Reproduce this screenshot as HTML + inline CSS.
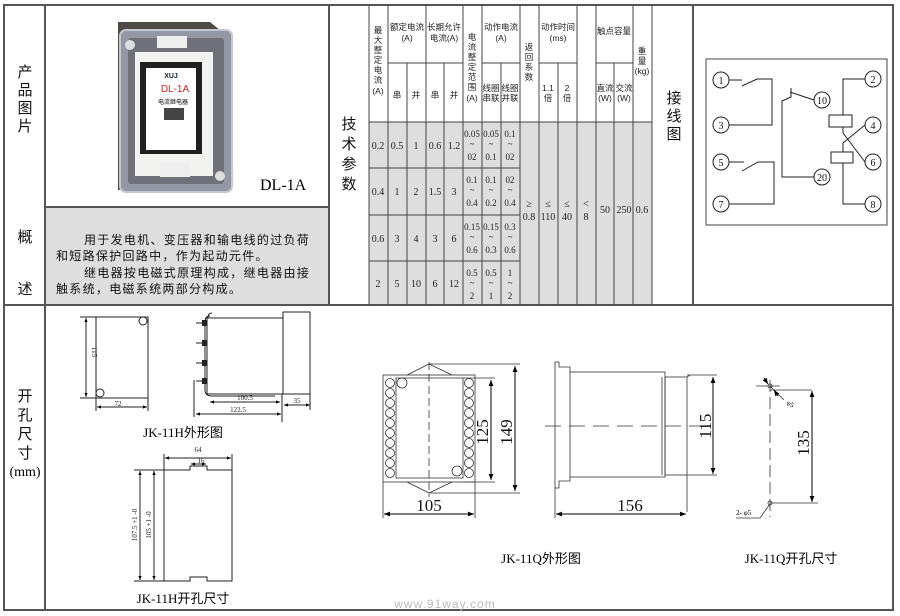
<!DOCTYPE html>
<html><head><meta charset="utf-8"><style>
html,body{margin:0;padding:0;background:#fff;width:900px;height:616px;overflow:hidden}
svg{display:block}
.c{font-family:"Liberation Serif","Noto Sans CJK SC",serif}
.s{font-family:"Liberation Sans","Noto Sans CJK SC",sans-serif}
</style></head><body>
<svg width="900" height="616" viewBox="0 0 900 616" xmlns="http://www.w3.org/2000/svg">
<defs>
<marker id="a" viewBox="0 0 10 10" refX="10" refY="5" markerWidth="6" markerHeight="6" orient="auto-start-reverse"><path d="M0,1 L10,5 L0,9z" fill="#000"/></marker>
<marker id="b" viewBox="0 0 10 10" refX="10" refY="5" markerWidth="4" markerHeight="4" orient="auto-start-reverse"><path d="M0,1 L10,5 L0,9z" fill="#000"/></marker>
</defs>
<rect x="45" y="207" width="284" height="98" fill="#dedede"/>
<rect x="369" y="122" width="283" height="183" fill="#dedede"/>
<g stroke="#555" stroke-width="2" fill="none">
<rect x="4" y="5" width="889" height="605"/>
<line x1="4" y1="305" x2="893" y2="305"/>
<line x1="45" y1="5" x2="45" y2="610"/>
<line x1="329" y1="5" x2="329" y2="305"/>
<line x1="45" y1="207" x2="329" y2="207"/>
<line x1="693" y1="5" x2="693" y2="305"/>
</g>
<g stroke="#444" stroke-width="1" fill="none">
<line x1="369" y1="5" x2="369" y2="305"/>
<line x1="652" y1="5" x2="652" y2="305"/>
<line x1="388" y1="5" x2="388" y2="305"/>
<line x1="407" y1="63" x2="407" y2="305"/>
<line x1="426" y1="5" x2="426" y2="305"/>
<line x1="444" y1="63" x2="444" y2="305"/>
<line x1="463" y1="5" x2="463" y2="305"/>
<line x1="482" y1="5" x2="482" y2="305"/>
<line x1="501" y1="63" x2="501" y2="305"/>
<line x1="520" y1="5" x2="520" y2="305"/>
<line x1="539" y1="5" x2="539" y2="305"/>
<line x1="558" y1="63" x2="558" y2="305"/>
<line x1="577" y1="5" x2="577" y2="305"/>
<line x1="596" y1="5" x2="596" y2="305"/>
<line x1="614" y1="63" x2="614" y2="305"/>
<line x1="633" y1="5" x2="633" y2="305"/>
<line x1="388" y1="63" x2="463" y2="63"/>
<line x1="482" y1="63" x2="520" y2="63"/>
<line x1="539" y1="63" x2="577" y2="63"/>
<line x1="596" y1="63" x2="633" y2="63"/>
<line x1="369" y1="122" x2="652" y2="122"/>
<line x1="369" y1="168" x2="520" y2="168"/>
<line x1="369" y1="215" x2="520" y2="215"/>
<line x1="369" y1="261" x2="520" y2="261"/>
</g>
<g class="s" font-size="15" fill="#111" text-anchor="middle">
<text x="25" y="77">产</text><text x="25" y="95">品</text><text x="25" y="113">图</text><text x="25" y="131">片</text>
<text x="25" y="242">概</text><text x="25" y="294">述</text>
<text x="349" y="129">技</text><text x="349" y="149">术</text><text x="349" y="169">参</text><text x="349" y="189">数</text>
<text x="674" y="103">接</text><text x="674" y="121">线</text><text x="674" y="139">图</text>
<text x="25" y="401">开</text><text x="25" y="420">孔</text><text x="25" y="439">尺</text><text x="25" y="458">寸</text>
</g>
<text x="25" y="476" class="c" font-size="14" text-anchor="middle">(mm)</text>
<g class="s" font-size="12" fill="#111" letter-spacing="1.3">
<text x="84" y="244">用于发电机、变压器和输电线的过负荷</text>
<text x="56" y="260">和短路保护回路中，作为起动元件。</text>
<text x="84" y="277">继电器按电磁式原理构成，继电器由接</text>
<text x="56" y="293">触系统，电磁系统两部分构成。</text>
</g>
<!-- product photo -->
<path d="M118,22 H210 L232,40 V190 H118 Z" fill="#4e4b46"/>
<rect x="120" y="30" width="112" height="162" rx="6" fill="#9498a4" stroke="#c5c8d0" stroke-width="2"/>
<rect x="128" y="38" width="96" height="146" rx="3" fill="#6f7079"/>
<rect x="135" y="52" width="78" height="124" fill="#f2f2f0"/>
<rect x="140" y="62" width="62" height="92" fill="#202020"/>
<rect x="146" y="68" width="50" height="82" fill="#fff"/>
<text x="171" y="78" class="s" font-size="7" font-weight="bold" text-anchor="middle" fill="#123">XUJ</text>
<text x="175" y="92" class="s" font-size="10" text-anchor="middle" fill="#c22">DL-1A</text>
<text x="173" y="104" class="s" font-size="6" text-anchor="middle">电流继电器</text>
<rect x="164" y="108" width="20" height="12" fill="#444"/>
<rect x="157" y="36" width="30" height="12" fill="#eee"/>
<rect x="160" y="163" width="30" height="14" fill="#eee"/>
<circle cx="130" cy="45" r="5" fill="#ddd"/><circle cx="220" cy="176" r="5" fill="#ddd"/>
<text x="260" y="190" class="c" font-size="16">DL-1A</text>
<g class="s" font-size="8.5" fill="#222" text-anchor="middle">
<text x="378" y="33">最</text><text x="378" y="43">大</text><text x="378" y="53">整</text><text x="378" y="63">定</text><text x="378" y="73">电</text><text x="378" y="83">流</text><text x="378" y="94">(A)</text>
<text x="407" y="30">额定电流</text><text x="407" y="41">(A)</text>
<text x="444" y="30">长期允许</text><text x="444" y="41">电流(A)</text>
<text x="397" y="98">串</text><text x="416" y="98">并</text><text x="435" y="98">串</text><text x="454" y="98">并</text>
<text x="472" y="40">电</text><text x="472" y="50">流</text><text x="472" y="60">整</text><text x="472" y="70">定</text><text x="472" y="80">范</text><text x="472" y="90">围</text><text x="472" y="101">(A)</text>
<text x="501" y="30">动作电流</text><text x="501" y="41">(A)</text>
<text x="491" y="91">线圈</text><text x="491" y="101">串联</text><text x="510" y="91">线圈</text><text x="510" y="101">并联</text>
<text x="529" y="50">返</text><text x="529" y="60">回</text><text x="529" y="70">系</text><text x="529" y="80">数</text>
<text x="558" y="30">动作时间</text><text x="558" y="41">(ms)</text>
<text x="548" y="91">1.1</text><text x="548" y="101">倍</text><text x="567" y="91">2</text><text x="567" y="101">倍</text>
<text x="614" y="34">触点容量</text>
<text x="605" y="91">直流</text><text x="605" y="101">(W)</text><text x="624" y="91">交流</text><text x="624" y="101">(W)</text>
<text x="642" y="54">重</text><text x="642" y="64">量</text><text x="642" y="74">(kg)</text>
</g>
<g class="c" font-size="10" fill="#222" text-anchor="middle">
<text x="378" y="149">0.2</text><text x="397" y="149">0.5</text><text x="416" y="149">1</text><text x="435" y="149">0.6</text><text x="454" y="149">1.2</text>
<text x="378" y="195">0.4</text><text x="397" y="195">1</text><text x="416" y="195">2</text><text x="435" y="195">1.5</text><text x="454" y="195">3</text>
<text x="378" y="242">0.6</text><text x="397" y="242">3</text><text x="416" y="242">4</text><text x="435" y="242">3</text><text x="454" y="242">6</text>
<text x="378" y="287">2</text><text x="397" y="287">5</text><text x="416" y="287">10</text><text x="435" y="287">6</text><text x="454" y="287">12</text>
</g>
<g class="c" font-size="9" fill="#222" text-anchor="middle">
<text x="472" y="137">0.05</text><text x="472" y="147">~</text><text x="472" y="160">02</text>
<text x="491" y="137">0.05</text><text x="491" y="147">~</text><text x="491" y="160">0.1</text>
<text x="510" y="137">0.1</text><text x="510" y="147">~</text><text x="510" y="160">02</text>
<text x="472" y="183">0.1</text><text x="472" y="193">~</text><text x="472" y="206">0.4</text>
<text x="491" y="183">0.1</text><text x="491" y="193">~</text><text x="491" y="206">0.2</text>
<text x="510" y="183">02</text><text x="510" y="193">~</text><text x="510" y="206">0.4</text>
<text x="472" y="230">0.15</text><text x="472" y="240">~</text><text x="472" y="253">0.6</text>
<text x="491" y="230">0.15</text><text x="491" y="240">~</text><text x="491" y="253">0.3</text>
<text x="510" y="230">0.3</text><text x="510" y="240">~</text><text x="510" y="253">0.6</text>
<text x="472" y="276">0.5</text><text x="472" y="286">~</text><text x="472" y="299">2</text>
<text x="491" y="276">0.5</text><text x="491" y="286">~</text><text x="491" y="299">1</text>
<text x="510" y="276">1</text><text x="510" y="286">~</text><text x="510" y="299">2</text>
</g>
<g class="c" font-size="10" fill="#222" text-anchor="middle">
<text x="529" y="207">≥</text><text x="529" y="220">0.8</text>
<text x="548" y="207">≤</text><text x="548" y="220">110</text>
<text x="567" y="207">≤</text><text x="567" y="220">40</text>
<text x="586" y="207">&lt;</text><text x="586" y="220">8</text>
<text x="605" y="213">50</text><text x="624" y="213">250</text><text x="642" y="213">0.6</text>
</g>
<rect x="706" y="59" width="181" height="166" fill="none" stroke="#444" stroke-width="1"/>
<g stroke="#222" stroke-width="1" fill="#fff">
<circle cx="721" cy="80" r="8"/><circle cx="721" cy="125" r="8"/><circle cx="721" cy="162" r="8"/><circle cx="721" cy="204" r="8"/>
<circle cx="873" cy="79" r="8"/><circle cx="873" cy="125" r="8"/><circle cx="873" cy="162" r="8"/><circle cx="873" cy="204" r="8"/>
<circle cx="822" cy="100" r="8"/><circle cx="822" cy="177" r="8"/>
</g>
<g stroke="#222" stroke-width="1" fill="none">
<path d="M729,80 H742 M742,86 L757,79 H772 V125 H729"/>
<path d="M729,162 H744 M742,171 L758,162 H774 V204 H729"/>
<path d="M814,100 L790,92 M791,88 V97 L782,101 V177 H814"/>
<path d="M865,79 H843 V115 M843,127 V133 L865,162 M865,125 L843,143 V152 M843,163 V204 H865"/>
<rect x="829" y="115" width="23" height="12"/><rect x="831" y="152" width="22" height="11"/>
</g>
<g class="c" font-size="10" text-anchor="middle" fill="#111">
<text x="721" y="84">1</text><text x="721" y="129">3</text><text x="721" y="166">5</text><text x="721" y="208">7</text>
<text x="873" y="83">2</text><text x="873" y="129">4</text><text x="873" y="166">6</text><text x="873" y="208">8</text>
<text x="822" y="104">10</text><text x="822" y="181">20</text>
</g>
<g stroke="#222" stroke-width="1" fill="none">
<rect x="96" y="317" width="52" height="81"/>
<circle cx="143" cy="321" r="4"/><circle cx="100" cy="393" r="4"/>
<line x1="80" y1="317" x2="96" y2="317"/><line x1="80" y1="398" x2="96" y2="398"/>
<line x1="86" y1="318" x2="86" y2="397" marker-start="url(#b)" marker-end="url(#b)"/>
<line x1="96" y1="398" x2="96" y2="411"/><line x1="148" y1="398" x2="148" y2="411"/>
<line x1="97" y1="407" x2="147" y2="407" marker-start="url(#b)" marker-end="url(#b)"/>
<rect x="207" y="318" width="76" height="76"/>
<path d="M210,316 Q205,316 205,322 V390 Q205,396 212,396 H275 M212,313 Q208,313 208,318"/>
<rect x="283" y="312" width="27" height="82"/>
<path d="M196,323 H207 M196,343 H207 M196,363 H207 M196,381 H207"/>
<path d="M194,380 V417 M282,394 V422 M310,394 V410"/>
<line x1="210" y1="402" x2="280" y2="402" marker-start="url(#b)" marker-end="url(#b)"/>
<line x1="284" y1="405" x2="310" y2="405" marker-start="url(#b)" marker-end="url(#b)"/>
<line x1="196" y1="414" x2="281" y2="414" marker-start="url(#b)" marker-end="url(#b)"/>
</g>
<g fill="#222"><rect x="202" y="320" width="5" height="6"/><rect x="202" y="340" width="5" height="6"/><rect x="202" y="360" width="5" height="6"/><rect x="202" y="378" width="5" height="6"/></g>
<g class="c" font-size="7" fill="#222">
<text x="92" y="352" transform="rotate(90 92 352)" text-anchor="middle">115</text>
<text x="118" y="406" text-anchor="middle">72</text>
<text x="245" y="400" text-anchor="middle">100.5</text>
<text x="297" y="403" text-anchor="middle">35</text>
<text x="238" y="412" text-anchor="middle">122.5</text>
<text x="198" y="452" text-anchor="middle">64</text>
<text x="201" y="463" text-anchor="middle">16</text>
<text x="137" y="525" transform="rotate(-90 137 525)" text-anchor="middle">107.5 +1 -0</text>
<text x="151" y="525" transform="rotate(-90 151 525)" text-anchor="middle">105 +1 -0</text>
</g>
<text x="183" y="437" class="c" font-size="13" text-anchor="middle">JK-11H外形图</text>
<g stroke="#222" stroke-width="1" fill="none">
<path d="M164,470 H190 V466 H207 V470 H232 V581 H207 V577 H190 V581 H164 Z"/>
<line x1="164" y1="454" x2="164" y2="470"/><line x1="232" y1="454" x2="232" y2="470"/>
<line x1="165" y1="458" x2="231" y2="458" marker-start="url(#b)" marker-end="url(#b)"/>
<line x1="191" y1="464" x2="206" y2="464" marker-start="url(#b)" marker-end="url(#b)"/>
<line x1="134" y1="470" x2="164" y2="470"/><line x1="134" y1="581" x2="164" y2="581"/>
<line x1="140" y1="471" x2="140" y2="580" marker-start="url(#b)" marker-end="url(#b)"/>
<line x1="154" y1="471" x2="154" y2="580" marker-start="url(#b)" marker-end="url(#b)"/>
</g>
<text x="183" y="603" class="c" font-size="13" text-anchor="middle">JK-11H开孔尺寸</text>
<g stroke="#333" stroke-width="0.8" fill="none">
<rect x="383" y="375" width="92" height="107"/>
<rect x="396" y="378" width="67" height="100"/>
<path d="M407,375 L429,364 L452,375 M407,482 L429,493 L452,482"/>
<line x1="429" y1="362" x2="429" y2="497" stroke-dasharray="8,4"/>
<circle cx="402" cy="383" r="5"/><circle cx="457" cy="471" r="5"/>
<line x1="429" y1="364" x2="520" y2="364"/><line x1="429" y1="493" x2="520" y2="493"/>
<line x1="463" y1="378" x2="495" y2="378"/><line x1="463" y1="482" x2="495" y2="482"/>
<line x1="383" y1="482" x2="383" y2="518"/><line x1="475" y1="482" x2="475" y2="518"/>
</g>
<g stroke="#333" stroke-width="0.8" fill="none">
<circle cx="390" cy="383" r="4.5"/><circle cx="390" cy="393" r="4.5"/><circle cx="390" cy="403" r="4.5"/><circle cx="390" cy="413" r="4.5"/><circle cx="390" cy="423" r="4.5"/><circle cx="390" cy="433" r="4.5"/><circle cx="390" cy="443" r="4.5"/><circle cx="390" cy="453" r="4.5"/><circle cx="390" cy="463" r="4.5"/><circle cx="390" cy="473" r="4.5"/>
<circle cx="469" cy="383" r="4.5"/><circle cx="469" cy="393" r="4.5"/><circle cx="469" cy="403" r="4.5"/><circle cx="469" cy="413" r="4.5"/><circle cx="469" cy="423" r="4.5"/><circle cx="469" cy="433" r="4.5"/><circle cx="469" cy="443" r="4.5"/><circle cx="469" cy="453" r="4.5"/><circle cx="469" cy="463" r="4.5"/><circle cx="469" cy="473" r="4.5"/>
</g>
<g stroke="#000" stroke-width="1" fill="none">
<line x1="491" y1="380" x2="491" y2="480" marker-start="url(#a)" marker-end="url(#a)"/>
<line x1="515" y1="366" x2="515" y2="491" marker-start="url(#a)" marker-end="url(#a)"/>
<line x1="384" y1="514" x2="474" y2="514" marker-start="url(#a)" marker-end="url(#a)"/>
</g>
<g class="c" font-size="17" fill="#111">
<text x="482" y="432" transform="rotate(-90 482 432)" text-anchor="middle" dy="6">125</text>
<text x="506" y="432" transform="rotate(-90 506 432)" text-anchor="middle" dy="6">149</text>
<text x="429" y="511" text-anchor="middle">105</text>
<text x="630" y="511" text-anchor="middle">156</text>
<text x="705" y="426" transform="rotate(-90 705 426)" text-anchor="middle" dy="6">115</text>
<text x="803" y="443" transform="rotate(-90 803 443)" text-anchor="middle" dy="6">135</text>
</g>
<g stroke="#333" stroke-width="0.8" fill="none">
<path d="M555,362 H559 V367 H570 V372 M555,362 V488 H559 V481 H570 V477"/>
<rect x="570" y="372" width="95" height="105"/>
<rect x="665" y="377" width="22" height="98"/>
<path d="M662,377 V475 M687,377 L690,375 M687,475 V512"/>
<line x1="545" y1="426" x2="700" y2="426" stroke-dasharray="16,8"/>
<line x1="555" y1="488" x2="555" y2="518"/>
<line x1="687" y1="375" x2="717" y2="375"/><line x1="687" y1="475" x2="717" y2="475"/>
</g>
<g stroke="#000" stroke-width="1" fill="none">
<line x1="713" y1="377" x2="713" y2="474" marker-start="url(#a)" marker-end="url(#a)"/>
<line x1="556" y1="514" x2="686" y2="514" marker-start="url(#a)" marker-end="url(#a)"/>
</g>
<g stroke="#333" stroke-width="0.8" fill="none">
<line x1="770" y1="380" x2="770" y2="517" stroke-dasharray="12,5"/>
<circle cx="770" cy="386" r="2"/><circle cx="770" cy="503" r="2"/>
<line x1="756" y1="386" x2="780" y2="386"/>
<line x1="770" y1="503" x2="818" y2="503"/>
<line x1="770" y1="390" x2="812" y2="390"/>
<line x1="770" y1="386" x2="784" y2="400"/>
<path d="M736,518 H760 L770,504"/>
</g>
<g stroke="#000" stroke-width="1" fill="none">
<line x1="812" y1="391" x2="812" y2="502" marker-start="url(#a)" marker-end="url(#a)"/>
<line x1="764" y1="378" x2="768" y2="384" marker-end="url(#a)"/>
<line x1="778" y1="396" x2="774" y2="390" marker-end="url(#a)"/>
</g>
<text x="786" y="404" class="c" font-size="7" transform="rotate(30 786 404)">φ5</text>
<text x="736" y="515" class="c" font-size="7">2- φ5</text>
<text x="541" y="563" class="c" font-size="13" text-anchor="middle">JK-11Q外形图</text>
<text x="791" y="563" class="c" font-size="13" text-anchor="middle">JK-11Q开孔尺寸</text>
<text x="445" y="608" class="s" font-size="12" fill="#bbb" text-anchor="middle" letter-spacing="1">www.91way.com</text>
</svg>
</body></html>
